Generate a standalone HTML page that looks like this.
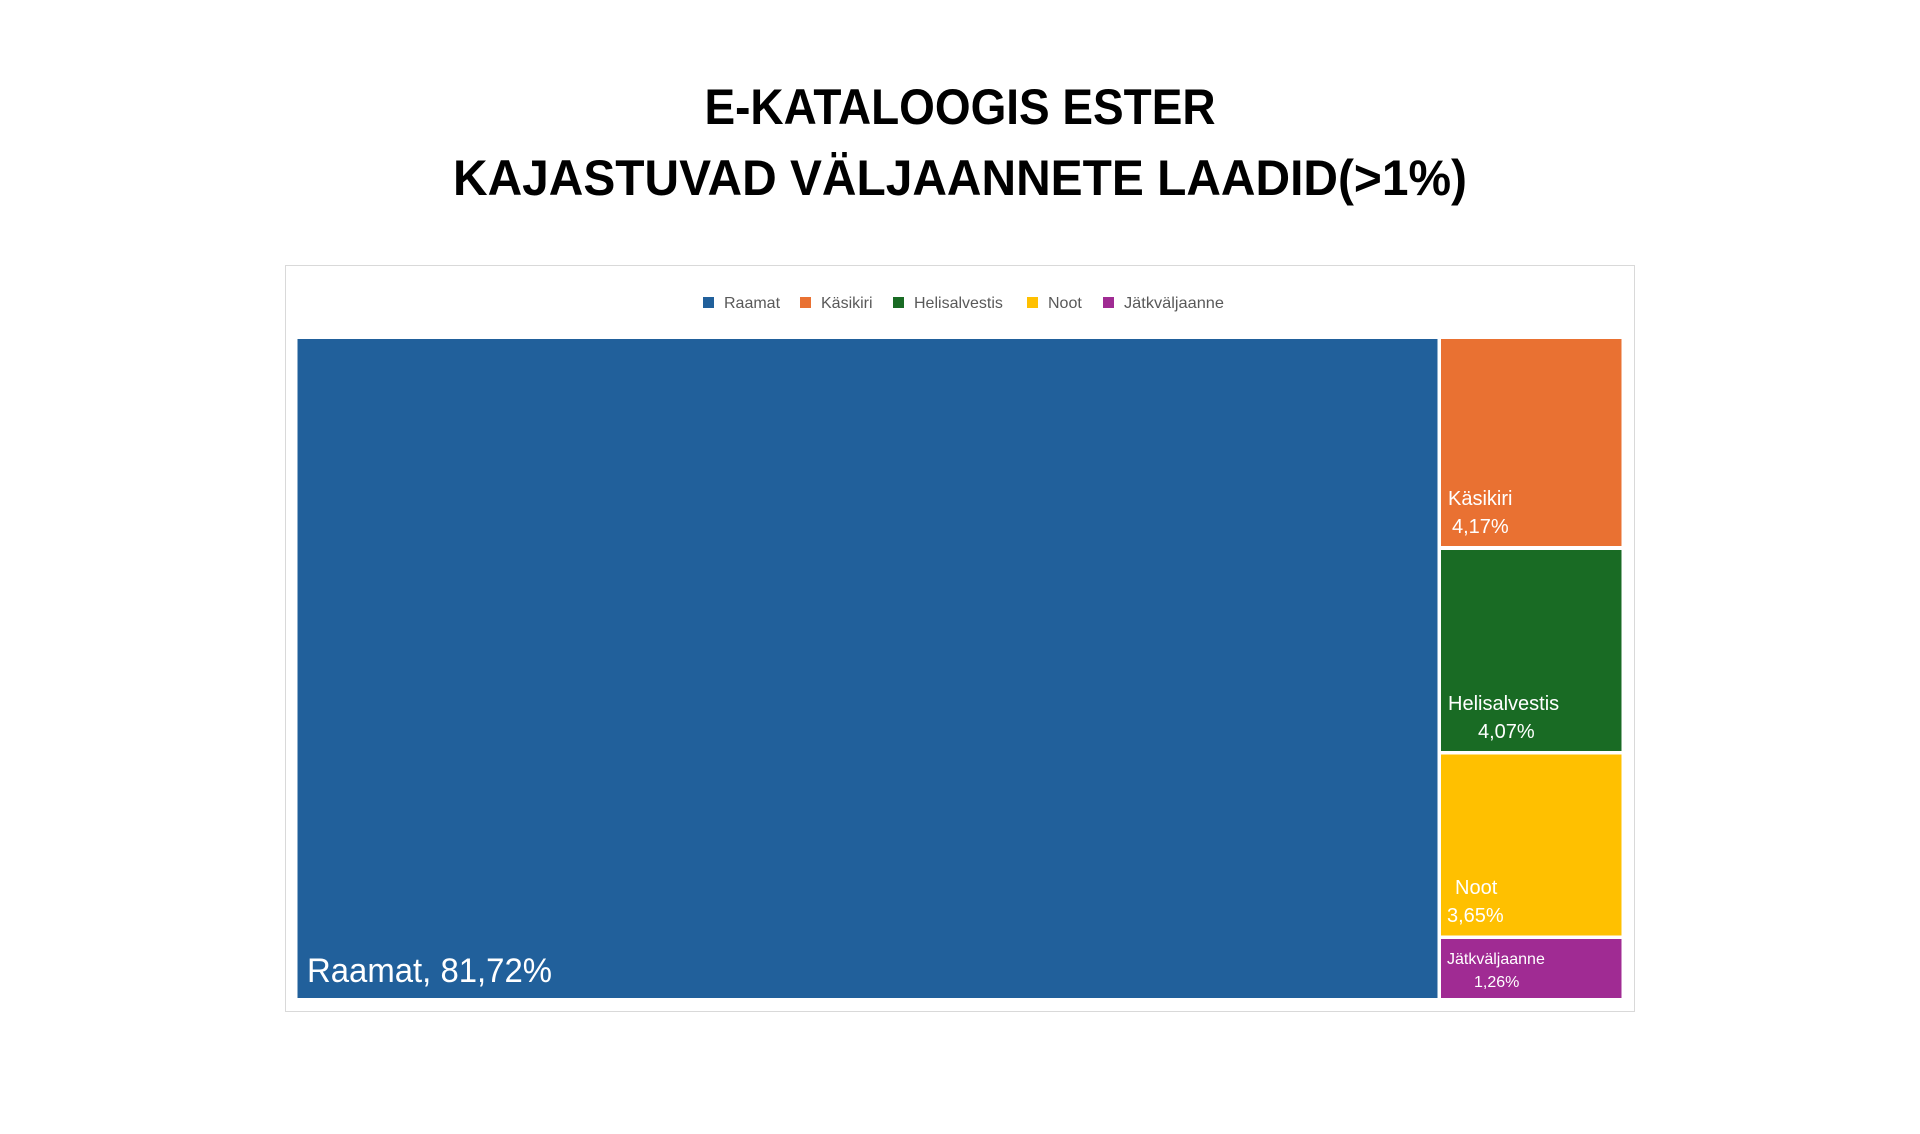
<!DOCTYPE html>
<html><head><meta charset="utf-8"><style>html,body{margin:0;padding:0;background:#fff}svg{display:block}</style></head>
<body>
<svg width="1920" height="1134" viewBox="0 0 1920 1134" xmlns="http://www.w3.org/2000/svg" font-family="Liberation Sans, sans-serif">
<rect width="1920" height="1134" fill="#fff"/>
<text x="960" y="124" text-anchor="middle" font-size="50" font-weight="bold" fill="#000" textLength="511" lengthAdjust="spacingAndGlyphs">E-KATALOOGIS ESTER</text>
<text x="960" y="195" text-anchor="middle" font-size="50" font-weight="bold" fill="#000" textLength="1014" lengthAdjust="spacingAndGlyphs">KAJASTUVAD VÄLJAANNETE LAADID(&gt;1%)</text>
<rect x="285.5" y="265.5" width="1349" height="746" fill="#fff" stroke="#d9d9d9" stroke-width="1"/>
<g font-size="16" fill="#595959">
<rect x="703" y="297" width="11" height="11" fill="#21609B"/><text x="724" y="308">Raamat</text>
<rect x="800" y="297" width="11" height="11" fill="#E97132"/><text x="821" y="308">Käsikiri</text>
<rect x="893" y="297" width="11" height="11" fill="#196B24"/><text x="914" y="308">Helisalvestis</text>
<rect x="1027" y="297" width="11" height="11" fill="#FFC000"/><text x="1048" y="308">Noot</text>
<rect x="1103" y="297" width="11" height="11" fill="#A02B93"/><text x="1124" y="308" textLength="100" lengthAdjust="spacingAndGlyphs">Jätkväljaanne</text>
</g>
<rect x="297.5" y="339" width="1140" height="659" fill="#21609B"/>
<rect x="1441" y="339" width="180.5" height="207" fill="#E97132"/>
<rect x="1441" y="550" width="180.5" height="201" fill="#196B24"/>
<rect x="1441" y="754.5" width="180.5" height="181" fill="#FFC000"/>
<rect x="1441" y="939" width="180.5" height="59" fill="#A02B93"/>
<g fill="#fff">
<text x="307" y="982" font-size="34" textLength="245" lengthAdjust="spacingAndGlyphs">Raamat, 81,72%</text>
<text x="1448" y="505" font-size="20">Käsikiri</text>
<text x="1452" y="533" font-size="20">4,17%</text>
<text x="1448" y="710" font-size="20">Helisalvestis</text>
<text x="1478" y="738" font-size="20">4,07%</text>
<text x="1455" y="894" font-size="20">Noot</text>
<text x="1447" y="922" font-size="20">3,65%</text>
<text x="1447" y="964" font-size="16">Jätkväljaanne</text>
<text x="1474" y="987" font-size="16">1,26%</text>
</g>
</svg>
</body></html>
